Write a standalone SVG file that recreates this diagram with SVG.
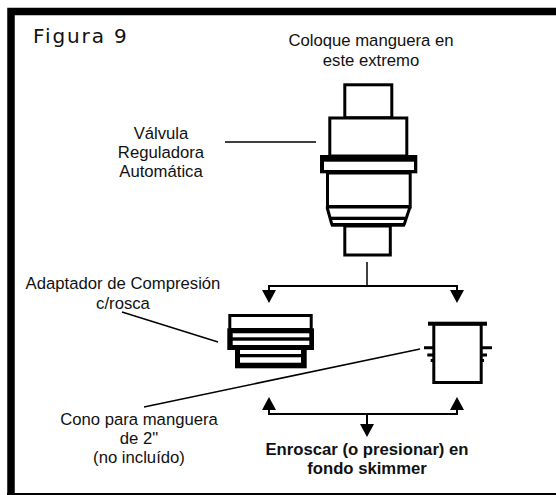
<svg xmlns="http://www.w3.org/2000/svg" width="556" height="495" viewBox="0 0 556 495">
<style>
.t{font-family:"Liberation Sans",Arial,sans-serif;font-size:16.7px;fill:#111;text-anchor:middle}
.b{font-weight:bold}
.o{fill:#fff;stroke:#000;stroke-width:3}
.k{fill:#000}
.w{fill:#fff}
.l{fill:none;stroke:#000;stroke-width:1.5}
.c{fill:none;stroke:#000;stroke-width:2}
</style>
<defs>
<marker id="a" markerUnits="userSpaceOnUse" markerWidth="14" markerHeight="15" refX="0" refY="7" orient="auto"><path d="M0 0L13 7L0 14Z" fill="#000"/></marker>
</defs>
<rect width="556" height="495" fill="#fff"/>
<g id="frame"><path d="M11 495V11.500H556" fill="none" stroke="#000" stroke-width="7.500"/><path d="M7 494H556" stroke="#000" stroke-width="2"/></g>
<g id="title"><text x="33" y="43" style="font-family:'DejaVu Sans',sans-serif;font-size:20px;fill:#111;letter-spacing:1.900px">Figura 9</text></g>
<g id="top-label"><text class="t" x="371" y="46">Coloque manguera en</text><text class="t" x="371" y="66">este extremo</text></g>
<g id="valve-label"><text class="t" x="161" y="139">Válvula</text><text class="t" x="161" y="158">Reguladora</text><text class="t" x="161" y="177">Automática</text></g>
<g id="valve">
<rect class="o" x="344.800" y="84.800" width="47" height="33"/>
<rect class="o" x="329.800" y="118" width="77" height="38"/>
<rect class="k" x="320" y="155" width="97.300" height="18.300"/>
<rect class="w" x="324" y="161.700" width="90" height="8.300"/>
<rect class="o" x="327.500" y="173" width="82.700" height="34"/>
<path class="w" d="M327 207H410L404 225H332Z"/>
<path class="c" d="M327 207L332 225M410 207L404 225" style="stroke-width:3"/>
<rect class="k" x="326" y="205" width="85" height="3.500"/>
<rect class="k" x="331" y="216.700" width="74" height="3.300"/>
<rect class="k" x="331" y="223" width="74" height="3.700"/>
<rect class="o" x="344.800" y="226" width="45.500" height="29"/>
</g>
<g id="adapter">
<rect class="o" x="229.800" y="315.500" width="81.400" height="14"/>
<rect class="k" x="227.300" y="328.300" width="86.700" height="21.700"/>
<rect class="w" x="232.700" y="333.300" width="76.600" height="4"/>
<rect class="w" x="232.700" y="340.700" width="76.600" height="4.300"/>
<rect class="k" x="235" y="350" width="71.700" height="18.300"/>
<rect class="w" x="240" y="350" width="61" height="4"/>
<rect class="w" x="240" y="357.300" width="61" height="5.400"/>
</g>
<g id="cone">
<rect class="o" x="433.800" y="324" width="47.400" height="58.500"/>
<rect class="k" x="428" y="321.700" width="59" height="4"/>
<path d="M424 347.700H433M482 347.700H492M427.300 355H433M482 355H487M430.700 360.600H433M482 360.600H484" stroke="#000" stroke-width="3" fill="none"/>
</g>
<g id="connectors">
<path class="l" d="M225 142H316"/>
<path class="l" d="M367 262V286"/>
<path class="c" d="M269 286H457"/>
<path class="c" d="M269 285V290" marker-end="url(#a)"/>
<path class="c" d="M457 285V290" marker-end="url(#a)"/>
<path class="c" d="M269 414H457"/>
<path class="c" d="M269 415V410" marker-end="url(#a)"/>
<path class="c" d="M457 415V410" marker-end="url(#a)"/>
<path class="c" d="M367 414V424" marker-end="url(#a)"/>
<path class="l" d="M122 312L218 342"/>
<path class="l" d="M144 407L420 349"/>
</g>
<g id="adapter-label"><text class="t" x="123" y="289">Adaptador de Compresión</text><text class="t" x="123" y="309">c/rosca</text></g>
<g id="cone-label"><text class="t" x="139" y="425">Cono para manguera</text><text class="t" x="139" y="444">de 2"</text><text class="t" x="139" y="463">(no incluído)</text></g>
<g id="bottom-label"><text class="t b" x="367" y="455">Enroscar (o presionar) en</text><text class="t b" x="367" y="474">fondo skimmer</text></g>
</svg>
